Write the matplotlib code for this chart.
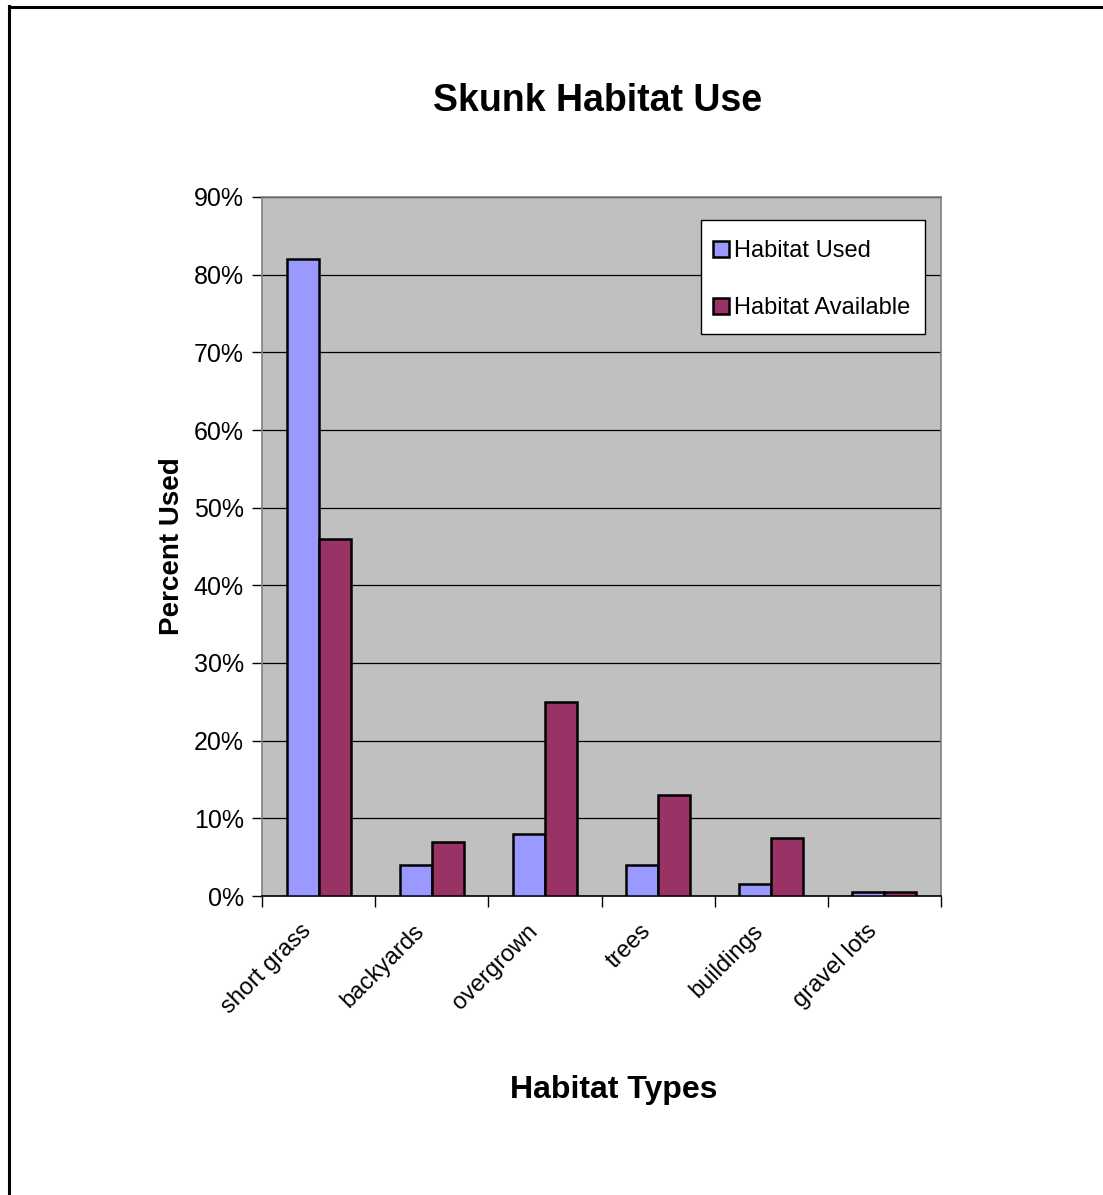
import matplotlib
matplotlib.use("Agg")
import matplotlib.pyplot as plt
from matplotlib.lines import Line2D
from matplotlib.patches import Rectangle
from matplotlib.ticker import FuncFormatter, FixedLocator
from matplotlib.transforms import ScaledTranslation
import numpy as np

plt.rcParams['font.family'] = ['Liberation Sans', 'DejaVu Sans']

# habitat categories and percentages
habitats = ["short grass", "backyards", "overgrown", "trees", "buildings", "gravel lots"]
used = [82, 4, 8, 4, 1.5, 0.5]
available = [46, 7, 25, 13, 7.5, 0.5]
y_ticks = [0, 10, 20, 30, 40, 50, 60, 70, 80, 90]

W, H = 1103, 1195
fig = plt.figure(figsize=(W / 100, H / 100), dpi=100)
fig.patch.set_facecolor("white")

ax = fig.add_axes([262 / W, 1 - 896 / H, 679 / W, 699 / H])
ax.set_facecolor("#C0C0C0")

x = np.arange(len(habitats))
bw = 0.283
ax.bar(x - bw / 2, used, bw, color="#9999FF", edgecolor="black", linewidth=1.8,
       label="Habitat Used", zorder=3)
ax.bar(x + bw / 2, available, bw, color="#993366", edgecolor="black", linewidth=1.8,
       label="Habitat Available", zorder=3)

ax.set_xlim(-0.5, len(habitats) - 0.5)
ax.set_ylim(0, 90)

# y axis
ax.set_yticks(y_ticks)
ax.yaxis.set_major_formatter(FuncFormatter(lambda v, p: f"{int(v)}%"))
ax.tick_params(axis="y", direction="out", length=7, width=1, color="black",
               labelsize=18, pad=6)
ax.grid(axis="y", color="black", linewidth=0.9, zorder=1)
ax.set_axisbelow(True)

# x axis: ticks at category boundaries, labels at centers
ax.xaxis.set_major_locator(FixedLocator(np.arange(-0.5, len(habitats), 1.0)))
ax.xaxis.set_minor_locator(FixedLocator(x))
ax.set_xticklabels([], minor=False)
ax.set_xticklabels(habitats, minor=True, rotation=45, ha="right", va="center",
                   rotation_mode="anchor", fontsize=17)
ax.tick_params(axis="x", which="major", direction="out", length=8, width=1, color="black")
ax.tick_params(axis="x", which="minor", length=0, pad=23)
shift = ScaledTranslation(-11 / 100, 0, fig.dpi_scale_trans)
for lbl in ax.get_xticklabels(minor=True):
    lbl.set_transform(lbl.get_transform() + shift)

for side in ["top", "right", "left"]:
    ax.spines[side].set_color("#808080")
    ax.spines[side].set_linewidth(1.2)
ax.spines["bottom"].set_color("black")
ax.spines["bottom"].set_linewidth(1.2)

ax.set_ylabel("Percent Used", fontsize=20, fontweight="bold", labelpad=6)

fig.text(598 / W, 1 - 101 / H, "Skunk Habitat Use", fontsize=27, fontweight="bold",
         ha="center", va="center")
fig.text(614 / W, 1 - 1090 / H, "Habitat Types", fontsize=23, fontweight="bold",
         ha="center", va="center")

# legend: white box drawn separately, entries placed inside it
def ax_xy(px, py):
    return (px - 262) / 679, (896 - py) / 699

x0, y0 = ax_xy(701, 334)
x1, y1 = ax_xy(925, 220)
ax.add_patch(Rectangle((x0, y0), x1 - x0, y1 - y0, transform=ax.transAxes,
                       facecolor="white", edgecolor="black", linewidth=1.0, zorder=5))
lx, ly = ax_xy(713, 240)
leg = ax.legend(loc="upper left", bbox_to_anchor=(lx, ly), fontsize=17,
                frameon=False, handlelength=0.68, handleheight=0.68,
                handletextpad=0.22, labelspacing=1.5, borderpad=0, borderaxespad=0)
leg.set_zorder(6)

# outer chart frame (left and top edges visible)
fig.add_artist(Line2D([9 / W, 9 / W], [0, 1 - 6 / H], color="black", linewidth=2.2,
                      transform=fig.transFigure))
fig.add_artist(Line2D([9 / W, 1], [1 - 7 / H, 1 - 7 / H], color="black", linewidth=2.2,
                      transform=fig.transFigure))

fig.savefig("out.png", dpi=100)
